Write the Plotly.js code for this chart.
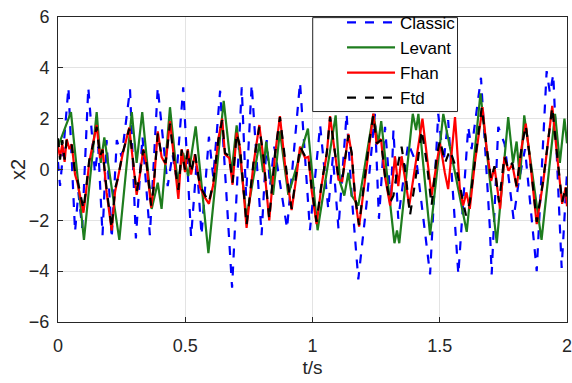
<!DOCTYPE html>
<html><head><meta charset="utf-8">
<script src="https://cdn.plot.ly/plotly-3.0.1.min.js"></script>
<style>html,body{margin:0;padding:0;background:#fff}#chart{width:572px;height:383px}</style>
</head><body><div id="chart"></div>
<script>
// Classic (blue dashed)
const tClassic = [0,0.008,0.021,0.041,0.067,0.08,0.095,0.119,0.145,0.158,0.175,0.191,0.211,0.231,0.25,0.283,0.306,0.332,0.361,0.392,0.431,0.45,0.465,0.492,0.523,0.545,0.564,0.593,0.61,0.637,0.684,0.722,0.739,0.761,0.8,0.82,0.833,0.85,0.9,0.951,0.99,1.03,1.062,1.08,1.102,1.134,1.154,1.18,1.213,1.245,1.261,1.285,1.308,1.318,1.337,1.355,1.376,1.41,1.462,1.494,1.515,1.533,1.573,1.612,1.625,1.662,1.697,1.704,1.73,1.755,1.79,1.81,1.835,1.881,1.92,1.933,1.946,1.979,2.0];
const vClassic = [0.3,-0.65,0.77,3.23,-2.45,-0.9,-2.3,3.23,-0.13,0.9,-2.58,1.16,-2.71,1.16,0.5,3.16,-2.71,1.29,-2.58,3.23,-0.65,0.6,-0.3,3.23,-2.65,0.3,-2.58,1.29,-0.3,3.1,-4.65,3.23,-1.03,3.35,-2.58,1.16,-0.65,0.9,-2.32,3.42,-2.39,1.74,-1.55,0.5,-2.32,2.19,-1.03,-4.32,-1.29,2.19,-1.94,1.68,-1.29,1.55,-1.94,-0.5,1.03,0.2,-4.13,2.19,0.3,1.94,-4.13,1.68,0.8,3.61,-2.32,-4.13,1.68,1.0,-1.94,-0.5,0.8,-4.0,3.87,3.0,3.74,-3.87,-0.13];
// Levant (green)
const tLevant = [0,0.051,0.102,0.152,0.168,0.182,0.241,0.29,0.309,0.331,0.368,0.392,0.407,0.44,0.47,0.492,0.512,0.541,0.591,0.651,0.682,0.702,0.741,0.791,0.806,0.818,0.845,0.872,0.905,0.982,1.02,1.091,1.108,1.125,1.141,1.154,1.18,1.239,1.258,1.27,1.322,1.332,1.341,1.394,1.407,1.416,1.462,1.514,1.606,1.66,1.724,1.769,1.788,1.802,1.815,1.832,1.9,1.953,1.972,1.99,2.0];
const vLevant = [0.9,2.26,-2.77,2.26,0.26,1.26,-2.77,2.26,0.26,2.26,-1.55,-0.52,-1.55,2.45,-0.52,0.65,-0.26,1.7,-3.29,2.7,-0.13,1.74,-1.9,1.03,-0.1,1.1,-1.0,1.5,-1.0,1.61,-2.39,2.13,-0.5,-1.03,-0.13,-1.03,-1.42,2.19,1.03,1.9,-2.9,-2.4,-2.9,2.19,1.55,2.19,-2.58,2.19,-2.45,3.0,-2.9,2.06,0.26,1.1,-0.39,2.13,-2.77,2.19,0.26,2.0,1.03];
// Ftd (black dashed)
const tFtd = [0,0.008,0.017,0.026,0.034,0.045,0.054,0.067,0.076,0.084,0.1,0.11,0.123,0.139,0.152,0.165,0.175,0.191,0.211,0.224,0.237,0.254,0.28,0.293,0.309,0.322,0.335,0.348,0.366,0.375,0.392,0.407,0.423,0.44,0.457,0.473,0.486,0.499,0.51,0.523,0.538,0.558,0.577,0.593,0.61,0.63,0.645,0.656,0.673,0.686,0.702,0.715,0.741,0.768,0.791,0.807,0.83,0.853,0.872,0.892,0.905,0.918,0.938,0.951,0.971,0.984,0.997,1.016,1.036,1.056,1.069,1.086,1.102,1.117,1.141,1.154,1.167,1.183,1.2,1.22,1.239,1.252,1.269,1.285,1.305,1.318,1.337,1.35,1.367,1.383,1.403,1.429,1.449,1.468,1.488,1.501,1.521,1.54,1.566,1.586,1.603,1.618,1.638,1.665,1.684,1.702,1.715,1.733,1.754,1.77,1.785,1.802,1.822,1.838,1.855,1.881,1.907,1.927,1.942,1.959,1.981,1.995,2.0];
const vFtd = [1.23,0.39,1.16,0.39,1.16,0.9,0.97,-0.13,-0.39,-0.77,-1.55,-0.77,0.39,1.03,1.68,0.52,0.77,-0.77,-2.32,-0.77,-0.26,0.65,1.61,0.52,-0.9,-0.13,0.77,0.26,-1.42,-0.77,1.42,0.52,0.26,1.81,0.26,-0.8,0.77,0,0.77,-0.13,0.65,-0.65,-1.03,-1.29,-0.52,1.16,1.94,0.65,0.52,-0.52,1.42,0.9,-2.19,0.26,1.68,0.52,-1.94,0.65,2.06,0.26,-0.65,-1.55,-0.13,0.9,0.52,0.52,-0.77,-2.06,-0.52,0.65,2.06,0.9,-0.32,-0.39,1.35,0.65,-1.03,-2.19,-0.77,0.9,2.13,1.03,1.16,-0.26,-1.29,-1.03,0.26,0.9,-0.26,-1.81,-0.52,1.55,0.26,-1.42,0.52,1.16,0.26,0.77,0,-1.03,-1.81,-1.29,0.26,2.45,0.9,-0.39,0.13,-1.29,0.52,0,0.26,-0.65,0.9,1.74,0.39,-2.06,-0.39,1.16,2.45,0.77,-1.29,-0.65,-1.42];
// Fhan (red)
const tFhan = [0,0.008,0.017,0.026,0.034,0.045,0.054,0.067,0.076,0.084,0.1,0.11,0.123,0.139,0.152,0.165,0.175,0.191,0.211,0.224,0.237,0.254,0.28,0.293,0.309,0.322,0.335,0.348,0.366,0.375,0.392,0.407,0.423,0.44,0.457,0.473,0.486,0.499,0.51,0.523,0.538,0.558,0.577,0.593,0.61,0.63,0.645,0.656,0.673,0.686,0.702,0.715,0.741,0.768,0.791,0.807,0.83,0.853,0.872,0.892,0.905,0.918,0.938,0.951,0.971,0.984,0.997,1.016,1.036,1.056,1.069,1.086,1.102,1.117,1.141,1.154,1.167,1.183,1.2,1.22,1.239,1.252,1.269,1.285,1.305,1.324,1.337,1.35,1.38,1.432,1.454,1.468,1.488,1.501,1.52,1.533,1.56,1.579,1.592,1.605,1.618,1.638,1.668,1.684,1.702,1.715,1.737,1.754,1.77,1.785,1.802,1.822,1.838,1.855,1.881,1.907,1.927,1.942,1.959,1.981,1.995,2.0];
const vFhan = [0.9,0.5,1.0,0.3,1.2,0.8,1.0,-0.2,-0.5,-0.9,-1.7,-0.9,0.3,1.1,1.75,0.45,0.8,-0.9,-2.4,-0.9,-0.3,0.6,1.65,0.45,-1.0,-0.2,0.8,0.2,-1.5,-0.8,1.5,0.5,0.2,1.9,0.2,-1.16,0.8,-0.1,0.8,-0.2,0.6,-0.7,-1.1,-1.35,-0.6,1.2,2.0,0.6,0.45,-0.6,1.45,0.85,-2.3,0.2,1.75,0.45,-2.0,0.6,2.1,0.2,-0.7,-1.6,-0.2,0.9,0.45,0.5,-0.85,-2.15,-0.6,0.6,2.1,0.85,-0.4,-0.45,1.4,0.6,-1.1,-2.25,-0.85,0.85,2.2,1.0,1.2,-0.3,-1.42,0.52,-0.65,0.52,-1.42,2.0,0.26,-1.03,0.26,1.03,-0.13,-0.77,2.06,-0.77,-1.42,-0.9,-1.55,0.26,2.45,0.85,-0.45,0.1,-1.55,0.5,-0.05,0.2,-0.7,0.9,1.8,0.35,-2.15,-0.45,1.2,2.5,0.75,-1.35,-0.7,-1.45];

const traces = [
  {x:tClassic, y:vClassic, name:'Classic', mode:'lines', line:{color:'#0000ff', width:2.2, dash:'dash'}},
  {x:tLevant, y:vLevant, name:'Levant', mode:'lines', line:{color:'#1e7d1e', width:2.2}},
  {x:tFhan, y:vFhan, name:'Fhan', mode:'lines', line:{color:'#ff0000', width:2.2}},
  {x:tFtd, y:vFtd, name:'Ftd', mode:'lines', line:{color:'#000000', width:2.2, dash:'dash'}}
];
const fontFam = 'Liberation Sans, Arial, Helvetica, sans-serif';
const layout = {
  width:572, height:383,
  margin:{l:58, r:5, t:12, b:61},
  paper_bgcolor:'#fff', plot_bgcolor:'#fff',
  font:{family:fontFam, size:18, color:'#262626'},
  showlegend:true,
  legend:{x:0.558, y:1.040, xanchor:'left', yanchor:'top', bgcolor:'rgba(0,0,0,0)', borderwidth:0, font:{size:17, color:'#000'}, itemwidth:48},
  shapes:[{type:'rect', xref:'paper', yref:'paper', x0:0.5004, x1:0.7849, y0:0.690, y1:0.998, fillcolor:'#ffffff', line:{color:'#262626', width:1}, layer:'above'}],
  annotations:[{text:'x2', xref:'paper', yref:'paper', x:-0.0796, y:0.5, xanchor:'center', yanchor:'middle', textangle:-90, showarrow:false, font:{size:20, color:'#262626'}}],
  xaxis:{range:[0,2], tickvals:[0,0.5,1,1.5,2], ticktext:['0','0.5','1','1.5','2'], ticklabeloverflow:'allow', showgrid:true, gridcolor:'#e3e3e3', zeroline:false, showline:true, linecolor:'#262626', linewidth:1, mirror:true, ticks:'inside', ticklen:5, tickcolor:'#262626', ticklabelstandoff:7, title:{text:'t/s', font:{size:19}, standoff:6}},
  yaxis:{range:[-6,6], tickvals:[-6,-4,-2,0,2,4,6], showgrid:true, gridcolor:'#e3e3e3', zeroline:false, showline:true, linecolor:'#262626', linewidth:1, mirror:true, ticks:'inside', ticklen:5, tickcolor:'#262626', ticklabelstandoff:4}
};
Plotly.newPlot('chart', traces, layout, {staticPlot:true, displayModeBar:false});
</script></body></html>
